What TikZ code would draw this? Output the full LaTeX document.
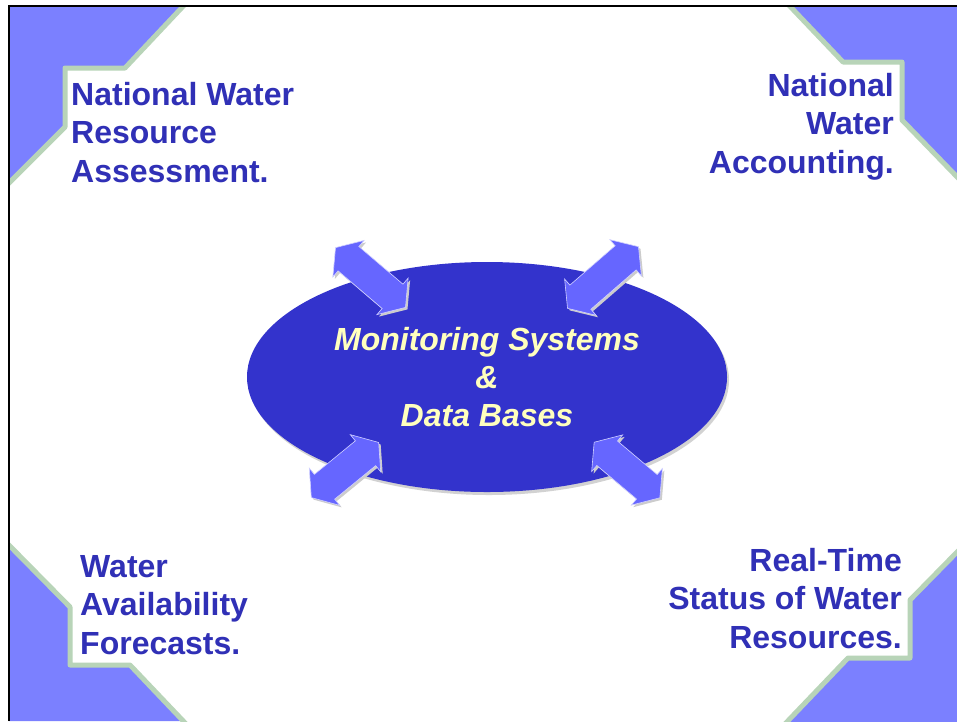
\documentclass[tikz,border=0pt]{standalone}
\usepackage{fontspec}
\setmainfont{Liberation Sans}
\usetikzlibrary{shapes.geometric}
\definecolor{cornerblue}{RGB}{123,128,255}
\definecolor{rimgreen}{RGB}{184,212,184}
\definecolor{hubblue}{RGB}{51,51,204}
\definecolor{arrowblue}{RGB}{102,102,255}
\definecolor{labelblue}{RGB}{48,48,182}
\definecolor{hubtext}{RGB}{255,255,190}
\tikzset{
  label/.style={inner sep=0pt,text=labelblue,font=\fontsize{32}{38.5}\selectfont\bfseries},
  corner/.style={fill=cornerblue},
  rim/.style={draw=rimgreen,line width=5pt,line join=round},
  bigarrow/.style={fill=arrowblue,draw=white!70!arrowblue,line width=0.6pt},
  arrowshadow/.style={fill=gray!40},
  pics/dblarrow/.style={code={
    \path[pic actions] (-#1,0) -- ({-#1+17},24) -- ({-#1+17},16) -- ({#1-17},16)
      -- ({#1-17},24) -- (#1,0) -- ({#1-17},-24) -- ({#1-17},-16)
      -- ({-#1+17},-16) -- ({-#1+17},-24) -- cycle;
  }}
}
\begin{document}
\begin{tikzpicture}[x=1pt,y=-1pt]
\useasboundingbox (0,0) rectangle (957,721);
\fill[white] (0,0) rectangle (957,721);
% corner pieces
\begin{scope}
\clip (9,6) rectangle (957,721);
\fill[corner] (0,0) -- (189,0) -- (125,68) -- (65,68) -- (65,127) -- (0,192) -- cycle;
\draw[rim] (189,0) -- (125,68) -- (65,68) -- (65,127) -- (0,192);
\fill[corner] (784,0) -- (843,62) -- (902,62) -- (902,120) -- (962,182) -- (962,0) -- cycle;
\draw[rim] (784,0) -- (843,62) -- (902,62) -- (902,120) -- (962,182);
\fill[corner] (0,536) -- (70,607) -- (70,665) -- (130,665) -- (183,721) -- (0,721) -- cycle;
\draw[rim] (0,536) -- (70,607) -- (70,665) -- (130,665) -- (188,726);
\fill[corner] (962,547) -- (910,600) -- (910,658) -- (848,658) -- (783,726) -- (962,726) -- cycle;
\draw[rim] (962,547) -- (910,600) -- (910,658) -- (848,658) -- (783,726);
\end{scope}
% frame
\draw[line width=2pt] (9,721) -- (9,6) -- (957,6);

% hub
\node[ellipse,fill=gray!35,minimum width=480pt,minimum height=230pt] (hubshadow) at (489,380) {};
\node[ellipse,fill=hubblue,minimum width=480pt,minimum height=230pt,align=center,
  text=hubtext,font=\fontsize{32}{38}\selectfont\bfseries\itshape] (hub) at (487,377)
  {Monitoring Systems\\\&\\Data Bases};

% arrows
\foreach \cx/\cy/\ang/\len in {370.5/277.5/-40.5/46, 603/277.5/41/47,
                               345/470/39.3/43.5, 627/470/-40.2/43}{
  \pic[arrowshadow,rotate=\ang] at ({\cx+2},{\cy+2}) {dblarrow=\len};
  \pic[bigarrow,rotate=\ang] at (\cx,\cy) {dblarrow=\len};
}

% labels
\node[label,anchor=north west,align=left] (assess) at (71,82)
  {National Water\\Resource\\Assessment.};
\node[label,anchor=north east,align=right] (account) at (894,73)
  {National\\Water\\Accounting.};
\node[label,anchor=north west,align=left] (forecast) at (80,555)
  {Water\\Availability\\Forecasts.};
\node[label,anchor=north east,align=right] (status) at (902,548)
  {Real-Time\\Status of Water\\Resources.};
\end{tikzpicture}
\end{document}
